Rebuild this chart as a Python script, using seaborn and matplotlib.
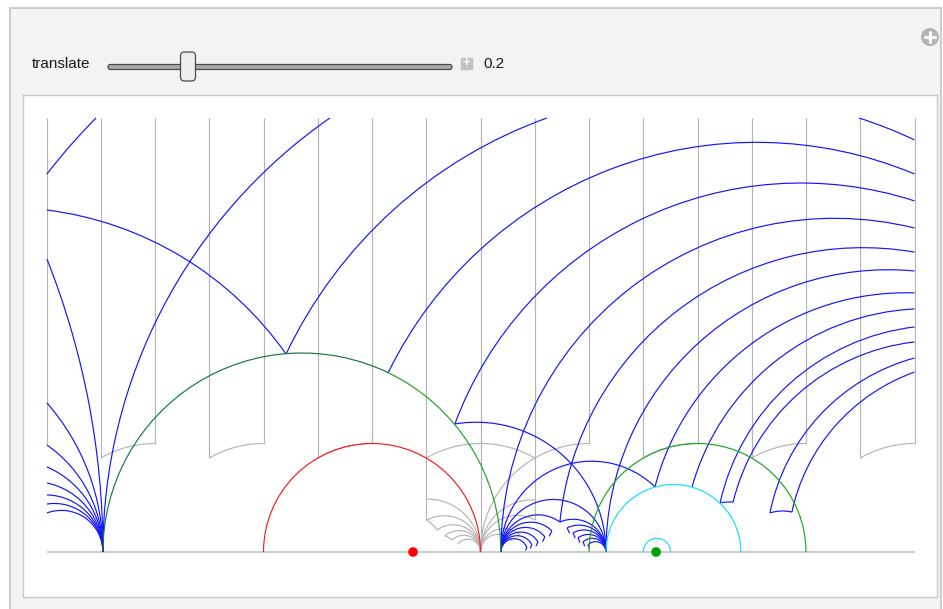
import numpy as np
import matplotlib
matplotlib.use("Agg")
import matplotlib.pyplot as plt
from matplotlib.patches import Arc, FancyBboxPatch, Rectangle, Circle
import seaborn as sns

sns.set_theme(style="white")
plt.rcParams["font.family"] = ["Liberation Sans", "DejaVu Sans"]

# ---- data (upper half plane) ----
translate = 0.2
red_dot_x = 0.189
green_dot_x = 1.309

# gray strip tiles: vertical edges and where they stop
grid_x = [-1.5, -1.25, -1.0, -0.75, -0.5, -0.25, 0.0, 0.25, 0.5,
          0.75, 1.0, 1.25, 1.5, 1.75, 2.0, 2.25, 2.5]
grid_bottom = [0.5, 0.433, 0.5, 0.433, 0.5, 0.433, 0.5, 0.147, 0.0,
               0.147, 0.5, 0.433, 0.5, 0.433, 0.5, 0.433, 0.5]
# tile floors: circle centre (radius 0.5) and angle span
floor_c = [-1.0, -0.5, 0.0, 0.5, 1.0, 1.5, 2.0, 2.5]
floor_t1 = [90, 90, 90, 60, 90, 90, 90, 90]
floor_t2 = [120, 120, 120, 120, 180, 120, 120, 120]
# gray cusp at 0.5: far ends of the arcs, and the little caps
gray_cusp = 0.5
gray_fan_ends = [(0.253, 0.244), (0.253, 0.147), (0.300, 0.101), (0.336, 0.074),
                 (0.369, 0.055), (0.396, 0.037), (0.751, 0.240), (0.751, 0.147),
                 (0.682, 0.078), (0.645, 0.051)]
gray_caps = [(0.253, 0.147, 0.300, 0.101), (0.336, 0.074, 0.369, 0.055)]

# blue fans on the axis
fan_left, fan_mid, fan_right = -1.240, 0.594, 1.078
left_fan_end_y = [0.180, 0.221, 0.263, 0.318, 0.392, 0.493, 0.687, 1.350]
frame_left = -1.498

# blue geodesic pieces: (x1, y1, x2, y2)
blue_arcs = [
    (-1.240, 0.0, -0.194, 2.0),
    (-1.498, 1.742, -1.272, 2.0),
    (-1.498, 1.576, -0.396, 0.912),
    (-0.396, 0.912, 0.806, 2.0),
    (0.074, 0.825, 2.5, 1.742),
    (2.244, 2.0, 2.5, 1.899),
    (0.382, 0.590, 2.5, 1.618),
    (0.382, 0.590, 1.078, 0.0),
    (0.594, 0.0, 2.5, 1.493),
    (0.866, 0.138, 2.5, 1.382),
    (1.078, 0.0, 2.5, 1.295),
    (1.304, 0.300, 2.5, 1.194),
    (1.475, 0.300, 2.5, 1.120),
    (1.604, 0.226, 2.5, 1.037),
    (1.664, 0.230, 2.5, 0.968),
    (1.834, 0.180, 2.5, 0.894),
    (1.935, 0.184, 2.5, 0.829),
    (1.604, 0.226, 1.664, 0.230),
    (1.834, 0.180, 1.935, 0.184),
    (0.594, 0.0, 1.304, 0.300),
    (0.594, 0.0, 1.078, 0.0),
    (0.594, 0.0, 0.866, 0.138),
    (0.866, 0.138, 1.078, 0.0),
]
mid_fan_ends = [(0.829, 0.097), (0.797, 0.069), (0.765, 0.046), (0.737, 0.032), (0.714, 0.018)]
mid_fan_caps = [(0.817, 0.072), (0.786, 0.047), (0.756, 0.027), (0.729, 0.016), (0.707, 0.007)]
right_fan_ends = [(0.899, 0.111), (0.926, 0.088), (0.949, 0.065), (0.972, 0.046), (0.995, 0.032)]
right_fan_caps = [(0.910, 0.086), (0.936, 0.064), (0.958, 0.043), (0.980, 0.027), (1.002, 0.016)]

# the coloured circles: (centre, radius)
red_circle = (0.0, 0.5)
green_circles = [(-0.323, 0.917), (1.5, 0.5)]
cyan_circles = [(1.389, 0.311), (1.313, 0.063)]

BLUE = "#1414ff"
GRAY = "#b4b4b4"
GREEN = "#1fa51f"
DKGREEN = "#147a3c"
LW = 0.85


def geodesic(ax, x1, y1, x2, y2, color, lw=LW, z=2):
    if abs(x1 - x2) < 1e-9:
        ax.plot([x1, x2], [y1, y2], color=color, lw=lw, zorder=z, solid_capstyle="butt")
        return
    c = (x2**2 + y2**2 - x1**2 - y1**2) / (2 * (x2 - x1))
    r = np.hypot(x1 - c, y1)
    t1 = np.degrees(np.arctan2(y1, x1 - c))
    t2 = np.degrees(np.arctan2(y2, x2 - c))
    ax.add_patch(Arc((c, 0), 2 * r, 2 * r, theta1=min(t1, t2), theta2=max(t1, t2),
                     edgecolor=color, lw=lw, zorder=z))


def half_circle(ax, c, r, color, t1=0, t2=180, lw=LW, z=3):
    ax.add_patch(Arc((c, 0), 2 * r, 2 * r, theta1=t1, theta2=t2,
                     edgecolor=color, lw=lw, zorder=z))


fig = plt.figure(figsize=(9.43, 6.09), dpi=100)
fig.patch.set_facecolor("white")

# ---- panel chrome in pixel coordinates ----
ui = fig.add_axes([0, 0, 1, 1], zorder=0)
ui.set_xlim(0, 943)
ui.set_ylim(609, 0)
ui.axis("off")
ui.add_patch(Rectangle((10, 8), 931, 605, fc="#f3f3f3", ec="#c4c4c4", lw=1.2))
ui.text(32, 64, "translate", fontsize=11, va="center", ha="left", color="#1a1a1a")
ui.add_patch(FancyBboxPatch((108, 64.5), 344, 5, boxstyle="round,pad=0,rounding_size=2.5",
                            fc="#a8a8a8", ec="#4a4a4a", lw=0.9))
ui.add_patch(FancyBboxPatch((180.5, 52), 15, 29, boxstyle="round,pad=0,rounding_size=4",
                            fc="#ededed", ec="#4a4a4a", lw=0.9))
ui.add_patch(Rectangle((461, 57.5), 11, 11, fc="#c2c2c2", ec="#c2c2c2"))
ui.text(466.5, 63, "+", fontsize=9, color="white", ha="center", va="center", fontweight="bold")
ui.text(483, 64, f"{translate:g}", fontsize=11, va="center", ha="left", color="#1a1a1a")
ui.add_patch(Circle((930, 37), 9, fc="#b3b3b3", ec="none"))
ui.plot([925, 935], [37, 37], color="white", lw=2.2)
ui.plot([930, 930], [32, 42], color="white", lw=2.2)

# ---- the hyperbolic picture ----
ax = fig.add_axes([23 / 943, 12 / 609, 914 / 943, 502 / 609], zorder=1)
ax.set_facecolor("white")
ax.set_xlim((23 - 372) / 217, (937 - 372) / 217)
ax.set_ylim((552 - 597) / 217, (552 - 95) / 217)
for s in ax.spines.values():
    s.set_color("#c8c8c8")
    s.set_linewidth(1.0)
ax.set_xticks([])
ax.set_yticks([])

# gray tiles
ax.vlines(grid_x, grid_bottom, 2.0, color=GRAY, lw=LW, zorder=1)
for c, t1, t2 in zip(floor_c, floor_t1, floor_t2):
    half_circle(ax, c, 0.5, GRAY, t1, t2, z=1)
for (x, y) in gray_fan_ends:
    geodesic(ax, gray_cusp, 0.0, x, y, GRAY, z=1)
for (x1, y1, x2, y2) in gray_caps:
    geodesic(ax, x1, y1, x2, y2, GRAY, z=1)
ax.hlines(0, -1.5, 2.5, color="#bdbdbd", lw=1.1, zorder=1)

# blue images
for y in left_fan_end_y:
    geodesic(ax, fan_left, 0.0, frame_left, y, BLUE)
for (x1, y1, x2, y2) in blue_arcs:
    geodesic(ax, x1, y1, x2, y2, BLUE)
for (x, y), (cx, cy) in zip(mid_fan_ends, mid_fan_caps):
    geodesic(ax, fan_mid, 0.0, x, y, BLUE)
    geodesic(ax, x, y, cx, cy, BLUE)
for (x, y), (cx, cy) in zip(right_fan_ends, right_fan_caps):
    geodesic(ax, fan_right, 0.0, x, y, BLUE)
    geodesic(ax, x, y, cx, cy, BLUE)

# coloured circles
half_circle(ax, red_circle[0], red_circle[1], "#ff1a1a")
c0, r0 = green_circles[0]
half_circle(ax, c0, r0, GREEN, 0, 64.3)
half_circle(ax, c0, r0, DKGREEN, 64.3, 180)
half_circle(ax, green_circles[1][0], green_circles[1][1], GREEN)
for c, r in cyan_circles:
    half_circle(ax, c, r, "#12dcff")

dots = {"x": [red_dot_x, green_dot_x], "y": [0.0, 0.0], "kind": ["red", "green"]}
sns.scatterplot(data=dots, x="x", y="y", hue="kind", palette={"red": "#ff0000", "green": "#00a000"},
                s=48, edgecolor="none", legend=False, ax=ax, zorder=5, clip_on=False)
ax.set_xlabel("")
ax.set_ylabel("")

fig.savefig("out.png", dpi=100)
